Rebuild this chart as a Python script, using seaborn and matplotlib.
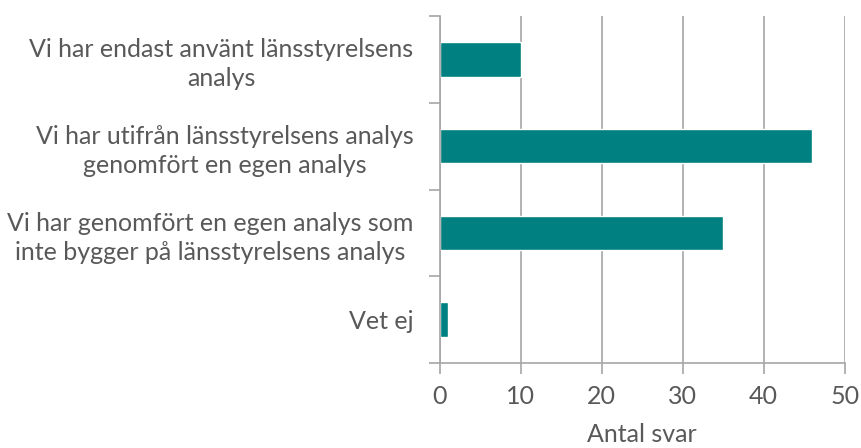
import matplotlib
matplotlib.use("Agg")
import matplotlib.pyplot as plt
import seaborn as sns
import pandas as pd

categories = [
    "Vi har endast använt länsstyrelsens\nanalys",
    "Vi har utifrån länsstyrelsens analys\ngenomfört en egen analys",
    "Vi har genomfört en egen analys som\ninte bygger på länsstyrelsens analys",
    "Vet ej",
]
values = [10, 46, 35, 1]
x_ticks = [0, 10, 20, 30, 40, 50]

df = pd.DataFrame({"svar": categories, "antal": values})

sns.set_theme(style="white")
plt.rcParams["font.family"] = ["Lato", "DejaVu Sans"]

text_col = "#595959"
axis_col = "#a6a6a6"
fs = 18

fig = plt.figure(figsize=(8.61, 4.48), dpi=100)
ax = fig.add_axes([0.511, 0.19, 0.47, 0.774])

sns.barplot(data=df, x="antal", y="svar", orient="h", color="#008080",
            saturation=1, width=0.4, ax=ax)

ax.set_xlim(0, 50)
ax.set_ylim(3.5, -0.5)
ax.set_xticks(x_ticks)
ax.xaxis.grid(True, color=axis_col, linewidth=1.2)
ax.set_axisbelow(True)

for s in ["top", "right"]:
    ax.spines[s].set_visible(False)
for s in ["left", "bottom"]:
    ax.spines[s].set_color(axis_col)
    ax.spines[s].set_linewidth(1.2)

# y ticks between categories
ax.set_yticks([-0.5, 0.5, 1.5, 2.5, 3.5], minor=True)
ax.tick_params(axis="y", which="minor", length=8, color=axis_col, width=1.2, left=True)
ax.tick_params(axis="y", which="major", length=0, pad=19)
ax.tick_params(axis="x", length=8, color=axis_col, width=1.2, bottom=True, pad=8)

ax.set_yticklabels(categories, fontsize=fs, color=text_col, multialignment="center",
                   linespacing=1.3)
ax.set_xticklabels([str(t) for t in x_ticks], fontsize=fs, color=text_col)
ax.set_xlabel("Antal svar", fontsize=fs, color=text_col, labelpad=11)
ax.set_ylabel("")

fig.savefig("out.png", dpi=100)
